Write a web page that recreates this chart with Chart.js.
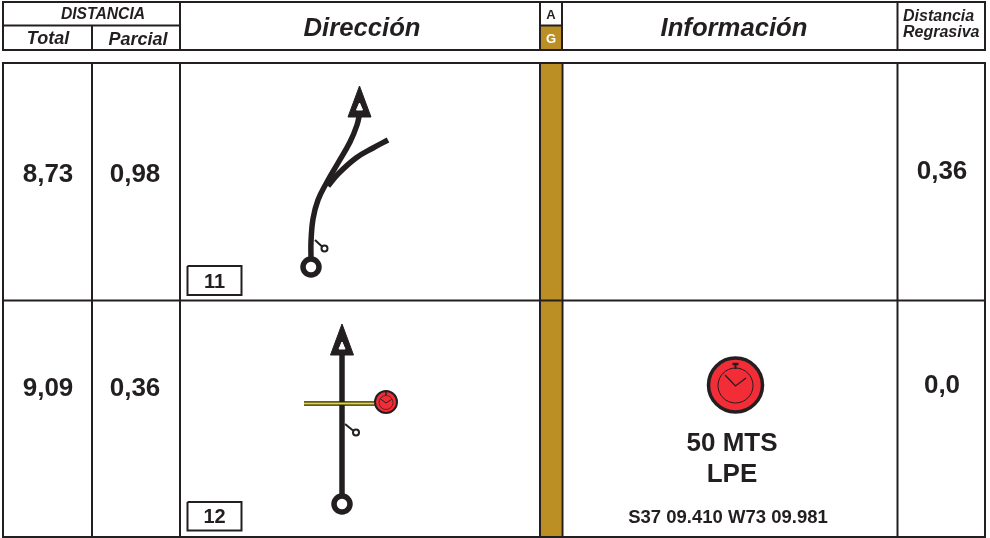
<!DOCTYPE html>
<html>
<head>
<meta charset="utf-8">
<title>Rutómetro</title>
<script src="https://cdn.jsdelivr.net/npm/chart.js@4/dist/chart.umd.min.js"></script>
<style>
    html, body { margin: 0; padding: 0; background: #fff; }
    #wrap { width: 990px; height: 538px; }
</style>
</head>
<body>
<div id="wrap"><canvas id="roadbook"></canvas></div>
<script>
// cell contents
const totals = ['8,73', '9,09'];
const parciales = ['0,98', '0,36'];
const regresivas = ['0,36', '0,0'];
const numeros = ['11', '12'];
const infoLines = ['50 MTS', 'LPE'];
const coords = 'S37 09.410 W73 09.981';

// table rules
const tableLines = [
    [[2, 2], [986, 2]],
    [[2, 50], [986, 50]],
    [[3, 1], [3, 51]],
    [[985, 1], [985, 51]],
    [[3, 25.5], [181, 25.5]],
    [[92, 25], [92, 50]],
    [[180, 1], [180, 51]],
    [[540, 1], [540, 51]],
    [[562, 1], [562, 51]],
    [[540, 25.5], [562, 25.5]],
    [[897.5, 1], [897.5, 51]],
    [[2, 63], [986, 63]],
    [[2, 300.5], [986, 300.5]],
    [[2, 537], [986, 537]],
    [[3, 62], [3, 538]],
    [[985, 62], [985, 538]],
    [[92, 62], [92, 538]],
    [[180, 62], [180, 538]],
    [[540, 62], [540, 538]],
    [[562.5, 62], [562.5, 538]],
    [[897.5, 62], [897.5, 538]]
];
const goldCells = [
    [[541, 26], [561, 26], [561, 49], [541, 49]],
    [[541, 64], [561, 64], [561, 536], [541, 536]]
];
const numberBoxes = [
    [[187.5, 266], [241.5, 266], [241.5, 295], [187.5, 295], [187.5, 266]],
    [[187.5, 502], [241.5, 502], [241.5, 530.5], [187.5, 530.5], [187.5, 502]]
];

// tulip 11
const road11 = [[311, 258], [311, 242], [313, 219], [318, 200], [327, 182], [338, 163], [350, 142], [357, 125], [360, 112]];
const branch11 = [[328, 186], [338, 174], [356, 158], [373, 148], [388, 140]];
const arrow11 = [[359.5, 86], [348, 117], [371, 117]];
const arrowHole11 = [[359.5, 103], [356.5, 110], [362.5, 110]];
const tick11 = [[315, 240], [322, 246.5]];
const start11 = [[311, 267]];
const small11 = [[324.5, 248.5]];

// tulip 12
const road12 = [[342, 495], [342, 352]];
const arrow12 = [[342, 324], [330.5, 355], [353.5, 355]];
const arrowHole12 = [[342, 342], [339, 349], [345, 349]];
const tick12 = [[345, 424], [353, 430.5]];
const start12 = [[342, 504]];
const small12 = [[356, 432.5]];
const crossLine = [[304, 403.5], [376, 403.5]];
const crossStop = [[386, 402]];

// stopwatch parts: small one next to the tulip, large one in the info cell
const watchSmallRing = [[386, 402.5]];
const watchSmallHands = [[380.5, 399], [386, 403], [391.5, 399.5]];
const watchSmallStem = [[386, 392], [386, 395]];
const watchBig = [[735.5, 385]];
const watchBigRing = [[735.5, 385.5]];
const watchBigHands = [[725, 375], [735.5, 386], [746, 378]];
const watchBigStem = [[735.5, 364], [735.5, 369]];
const watchBigCap = [[732.5, 364], [738.5, 364]];

const INK = '#231f20';
const GOLD = '#bc8f25';
const RED = '#f32d37';

const toXY = (p) => p.map(([x, y]) => ({ x, y }));
const datasets = [];

function stroke(points, color, width, extra) {
    datasets.push({
        data: toXY(points),
        borderColor: color,
        borderWidth: width,
        pointRadius: 0,
        fill: false,
        ...extra
    });
}

function shape(points, color) {
    datasets.push({
        data: toXY([...points, points[0]]),
        borderColor: color,
        backgroundColor: color,
        borderWidth: 1,
        pointRadius: 0,
        fill: 'shape'
    });
}

function ring(point, radius, width, fillColor, lineColor) {
    datasets.push({
        data: toXY(point),
        showLine: false,
        pointStyle: 'circle',
        pointRadius: radius,
        pointBorderWidth: width,
        pointBackgroundColor: fillColor,
        pointBorderColor: lineColor
    });
}

goldCells.forEach((c) => shape(c, GOLD));
tableLines.forEach((l) => stroke(l, INK, 2));
numberBoxes.forEach((b) => stroke(b, INK, 2));

stroke(road11, INK, 5.5, { tension: 0.4 });
stroke(branch11, INK, 5.5, { tension: 0.4 });
shape(arrow11, INK);
shape(arrowHole11, '#fff');
stroke(tick11, INK, 2);
ring(start11, 8, 5.5, '#fff', INK);
ring(small11, 3, 2, '#fff', INK);

stroke(road12, INK, 5.5);
shape(arrow12, INK);
shape(arrowHole12, '#fff');
stroke(tick12, INK, 2);
ring(start12, 8, 5.5, '#fff', INK);
ring(small12, 3, 2, '#fff', INK);
stroke(crossLine, INK, 4.5);
stroke(crossLine, '#e3dc1e', 2);
ring(crossStop, 11, 2, RED, INK);
ring(watchSmallRing, 7, 0.7, RED, INK);
stroke(watchSmallHands, INK, 1);
stroke(watchSmallStem, INK, 1.5);

ring(watchBig, 27, 3.5, RED, INK);
ring(watchBigRing, 17.5, 1, RED, INK);
stroke(watchBigHands, INK, 1.3);
stroke(watchBigStem, INK, 2);
stroke(watchBigCap, INK, 2.5);

// first dataset ends up on top otherwise
datasets.forEach((d, i) => { d.order = datasets.length - i; });

const sans = '"Liberation Sans", Arial, sans-serif';

const textPlugin = {
    id: 'cellText',
    afterDatasetsDraw(chart) {
        const { ctx, scales } = chart;
        const put = (str, x, y, font, color, align) => {
            ctx.font = `${font} ${sans}`;
            ctx.fillStyle = color || INK;
            ctx.textAlign = align || 'center';
            ctx.textBaseline = 'middle';
            ctx.fillText(str, scales.x.getPixelForValue(x), scales.y.getPixelForValue(y));
        };
        ctx.save();
        put('DISTANCIA', 103, 14.5, 'italic bold 15.7px');
        put('Total', 48, 39.5, 'italic bold 18px');
        put('Parcial', 138, 40, 'italic bold 18px');
        put('Dirección', 362, 29, 'italic bold 25.7px');
        put('A', 551, 15, 'bold 13px');
        put('G', 551, 39, 'bold 13px', '#fff');
        put('Información', 734, 29, 'italic bold 25.7px');
        put('Distancia', 903, 17, 'italic bold 16px', INK, 'left');
        put('Regrasiva', 903, 33, 'italic bold 16px', INK, 'left');

        const rowY = [175, 389];
        const regY = [172, 386];
        const boxY = [282, 517];
        rowY.forEach((y, i) => {
            put(totals[i], 48, y, 'bold 26px');
            put(parciales[i], 135, y, 'bold 26px');
            put(regresivas[i], 942, regY[i], 'bold 26px');
            put(numeros[i], 214.5, boxY[i], 'bold 20px');
        });

        put(infoLines[0], 732, 444, 'bold 26px');
        put(infoLines[1], 732, 475, 'bold 26px');
        put(coords, 728, 518, 'bold 18.5px');
        ctx.restore();
    }
};

new Chart(document.getElementById('roadbook'), {
    type: 'line',
    data: { datasets },
    options: {
        responsive: true,
        maintainAspectRatio: false,
        animation: false,
        layout: { padding: 0, autoPadding: false },
        events: [],
        plugins: {
            legend: { display: false },
            tooltip: { enabled: false }
        },
        scales: {
            x: { type: 'linear', min: 0, max: 990, display: false },
            y: { type: 'linear', min: 0, max: 538, reverse: true, display: false }
        }
    },
    plugins: [textPlugin]
});
</script>
</body>
</html>
